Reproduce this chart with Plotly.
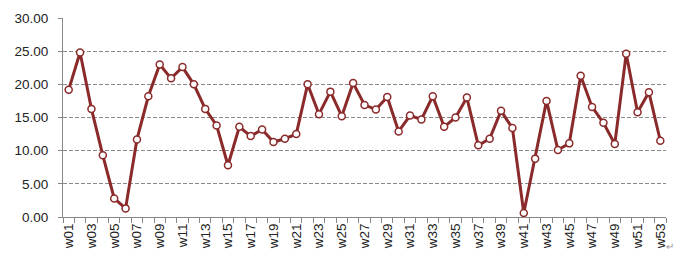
import plotly.graph_objects as go

weeks = [f"w{i:02d}" for i in range(1, 54)]
values = [19.2, 24.8, 16.3, 9.3, 2.8, 1.3, 11.7, 18.2, 23.0, 20.9,
          22.6, 20.0, 16.3, 13.8, 7.8, 13.6, 12.2, 13.2, 11.3, 11.8,
          12.5, 20.0, 15.5, 18.9, 15.2, 20.2, 16.9, 16.2, 18.1, 12.9,
          15.3, 14.7, 18.2, 13.6, 15.0, 18.0, 10.8, 11.8, 16.0, 13.4,
          0.6, 8.8, 17.5, 10.1, 11.1, 21.3, 16.6, 14.2, 11.0, 24.6,
          15.8, 18.8, 11.5]
y_ticks = [0, 5, 10, 15, 20, 25, 30]

x_pos = list(range(1, len(weeks) + 1))
label_pos = x_pos[::2]
label_text = weeks[::2]

line_color = "#8B2A2A"

fig = go.Figure()
fig.add_trace(go.Scatter(
    x=x_pos, y=values, mode="lines+markers",
    line=dict(color=line_color, width=3),
    marker=dict(size=7, color="white", line=dict(color=line_color, width=1.5)),
    hoverinfo="y",
))

fig.update_layout(
    width=685, height=262,
    margin=dict(l=63, r=19, t=18, b=45),
    paper_bgcolor="white", plot_bgcolor="white",
    showlegend=False,
    font=dict(family="Liberation Sans, Arial, sans-serif", size=13.5, color="#222222"),
)
fig.update_xaxes(
    range=[0.5, len(weeks) + 0.5],
    tickmode="array", tickvals=label_pos, ticktext=label_text,
    tickangle=-90, ticks="", showgrid=False,
    showline=True, linecolor="#888888", linewidth=1,
    minor=dict(ticks="outside", tickmode="linear", tick0=0.5, dtick=1,
               ticklen=5, tickcolor="#888888", showgrid=False),
    zeroline=False,
)
fig.update_yaxes(
    range=[0, 30], tickmode="array", tickvals=y_ticks,
    ticktext=[f"{v:.2f}" for v in y_ticks],
    showgrid=True, gridcolor="#8a8a8a", griddash="4px,2px", gridwidth=1,
    showline=True, linecolor="#888888", linewidth=1,
    ticks="outside", ticklen=4, tickcolor="#888888",
    ticklabelstandoff=7,
    zeroline=False,
)
fig.add_annotation(
    xref="paper", yref="paper",
    x=(676 - 63) / (685 - 63 - 19),
    y=-(254 - 217) / (262 - 18 - 45),
    text="↵", showarrow=False,
    font=dict(size=10, color="#999999"),
)
fig.write_html("out.html")
